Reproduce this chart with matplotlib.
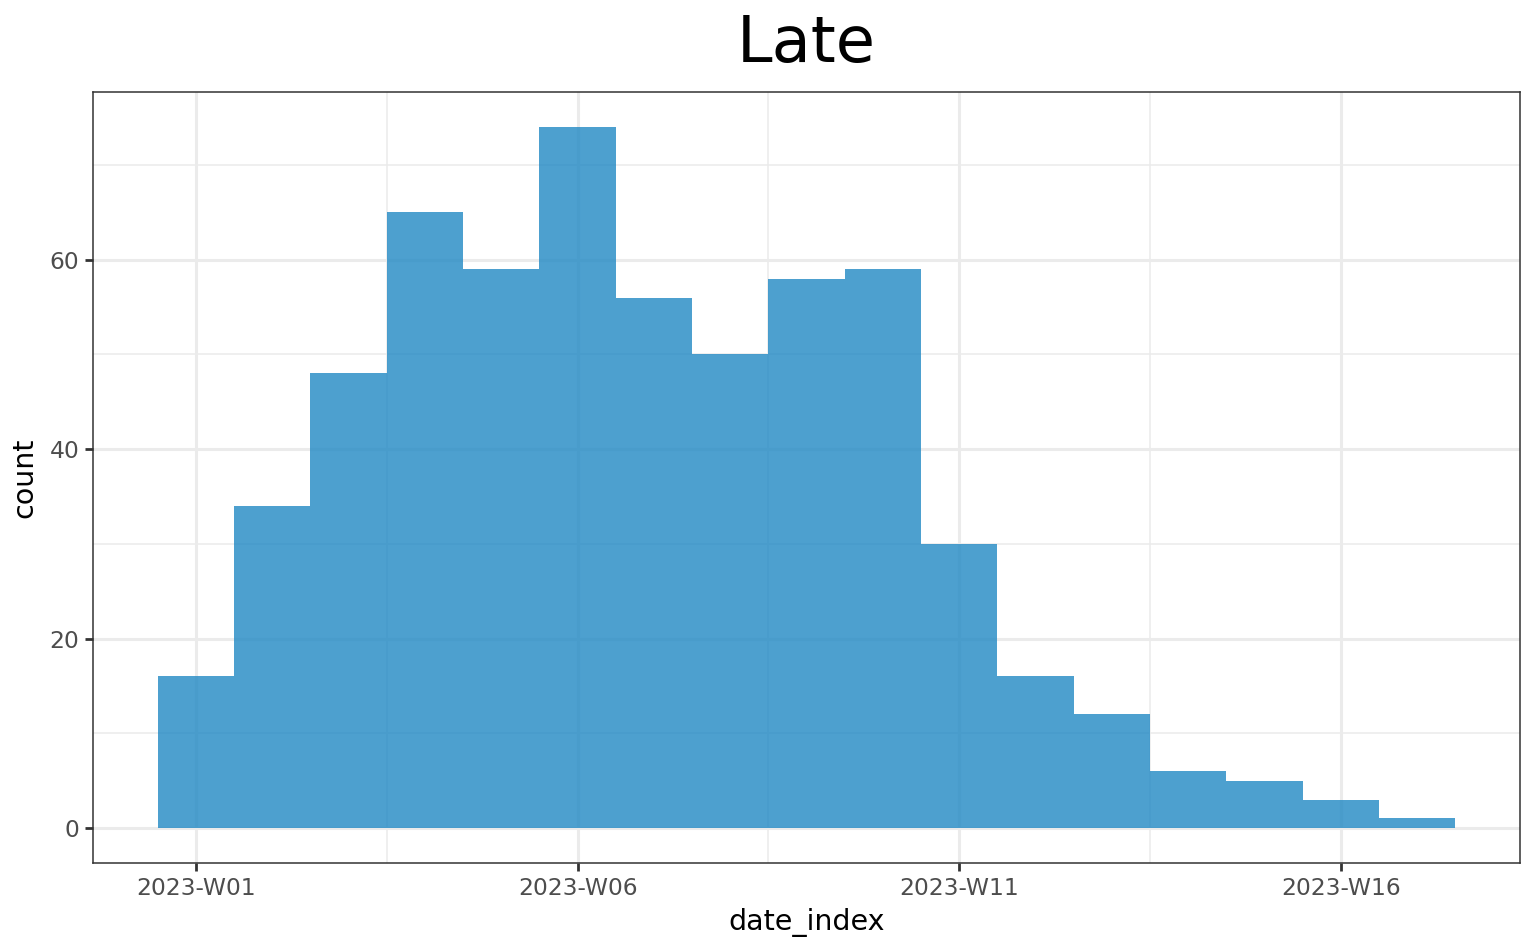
import numpy as np
import matplotlib
matplotlib.use("Agg")
import matplotlib.pyplot as plt
from matplotlib.ticker import MultipleLocator, FixedLocator

# weekly counts (2023-W01 .. 2023-W17)
weeks = list(range(1, 18))
counts = [16, 34, 48, 65, 59, 74, 56, 50, 58, 59, 30, 16, 12, 6, 5, 3, 1]
tick_weeks = [1, 6, 11, 16]
tick_labels = ["2023-W%02d" % w for w in tick_weeks]

fig = plt.figure(figsize=(15.36, 9.49), dpi=100)
ax = fig.add_axes([93 / 1536, 1 - 863 / 949, (1520 - 93) / 1536, (863 - 92) / 949])

ax.bar(weeks, counts, width=1.0, align="center", color="#2088C4", alpha=0.8,
       linewidth=0, zorder=3)

# limits with ggplot-style 5% expansion
span_x = (weeks[-1] + 0.5) - (weeks[0] - 0.5)
ax.set_xlim(weeks[0] - 0.5 - 0.05 * span_x, weeks[-1] + 0.5 + 0.05 * span_x)
ymax = max(counts)
ax.set_ylim(-0.05 * ymax, ymax * 1.05)

ax.xaxis.set_major_locator(FixedLocator(tick_weeks))
ax.set_xticklabels(tick_labels)
ax.xaxis.set_minor_locator(FixedLocator([3.5, 8.5, 13.5]))
ax.yaxis.set_major_locator(MultipleLocator(20))
ax.yaxis.set_minor_locator(MultipleLocator(10))

ax.grid(which="major", color="#EBEBEB", linewidth=2.2, zorder=0)
ax.grid(which="minor", color="#EBEBEB", linewidth=1.1, zorder=0)
ax.set_axisbelow(True)

for s in ax.spines.values():
    s.set_color("#333333")
    s.set_linewidth(1.1)

ax.tick_params(which="major", length=6, width=2, color="#333333",
               labelcolor="#4D4D4D", labelsize=16.8, pad=4)
ax.tick_params(which="minor", length=0)

ax.set_xlabel("date_index", fontsize=20.5, color="black", labelpad=6)
ax.set_ylabel("count", fontsize=20.5, color="black", labelpad=8)
fig.text(0.525, 0.954, "Late", fontsize=46, ha="center", va="center")

fig.savefig("out.png", dpi=100)
